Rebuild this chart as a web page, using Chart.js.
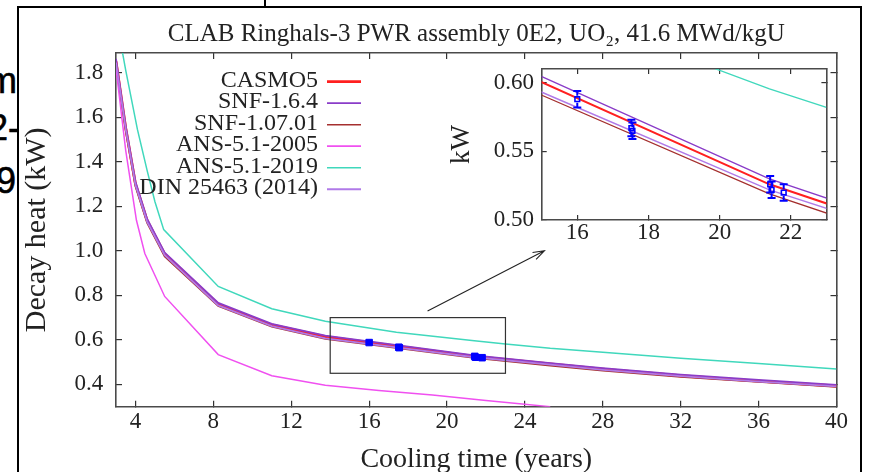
<!DOCTYPE html>
<html>
<head>
<meta charset="utf-8">
<script src="https://cdn.jsdelivr.net/npm/chart.js@4"></script>
<style>
html,body{margin:0;padding:0;width:869px;height:472px;overflow:hidden;background:#fff;}
.side{position:absolute;font-family:"Liberation Sans",Arial,sans-serif;font-size:36px;line-height:36px;color:#000;white-space:nowrap;-webkit-text-stroke:0.6px #000;}
#frame{position:absolute;left:17px;top:6px;width:841px;height:520px;border:2px solid #000;background:#fff;}
#topline{position:absolute;left:263.5px;top:0;width:2px;height:7px;background:#000;}
#main{position:absolute;left:0;top:0;}
#inset{position:absolute;left:430px;top:41px;}
</style>
</head>
<body>
<div class="side" style="left:-13px;top:62.8px;">m</div>
<div class="side" style="left:-12px;top:109.5px;">2-</div>
<div class="side" style="left:-4px;top:162.8px;">9(</div>
<div id="topline"></div>
<div id="frame"></div>
<canvas id="main" width="869" height="472"></canvas>
<canvas id="inset" width="402" height="207"></canvas>
<script>
// ---------------- data ----------------
const titleText = 'CLAB Ringhals-3 PWR assembly 0E2, UO\u2082, 41.6 MWd/kgU';
const seriesNames = ['CASMO5', 'SNF-1.6.4', 'SNF-1.07.01', 'ANS-5.1-2005', 'ANS-5.1-2019', 'DIN 25463 (2014)'];

const mainX    = [3, 3.5, 4, 4.6, 5.5, 8.25, 11, 13.75, 21.4, 25.3, 28, 32, 36, 40];
const casmo5   = [1.850, 1.550, 1.300, 1.135, 0.985, 0.760, 0.667, 0.615, 0.526, 0.492, 0.469, 0.439, 0.415, 0.393];
const snf164   = [1.862, 1.560, 1.310, 1.143, 0.992, 0.766, 0.672, 0.619, 0.530, 0.496, 0.473, 0.444, 0.420, 0.398];
const snf10701 = [1.840, 1.540, 1.290, 1.125, 0.975, 0.752, 0.659, 0.605, 0.519, 0.485, 0.462, 0.434, 0.411, 0.389];
const din25463 = [1.845, 1.545, 1.295, 1.130, 0.980, 0.755, 0.662, 0.607, 0.522, 0.489, 0.465, 0.437, 0.413, 0.391];

const ans2005X = [3, 3.5, 4.05, 4.48, 5.5, 8.25, 11, 13.75, 16.5, 19.25, 22, 25.3];
const ans2005  = [1.82, 1.45, 1.137, 0.988, 0.795, 0.534, 0.439, 0.396, 0.373, 0.352, 0.328, 0.300];

const ans2019X = [3, 3.5, 4.1, 4.6, 5.0, 5.45, 8.25, 11, 13.75, 17.4, 21.4, 23, 25.3, 28, 32, 36, 40];
const ans2019  = [2.05, 1.81, 1.545, 1.36, 1.22, 1.095, 0.840, 0.740, 0.684, 0.634, 0.5956, 0.582, 0.562, 0.544, 0.517, 0.494, 0.469];

const measX   = [16.0, 17.52, 17.55, 21.42, 21.46, 21.8];
const measY   = [0.588, 0.567, 0.565, 0.526, 0.522, 0.520];
const measErr = [0.006, 0.006, 0.006, 0.006, 0.006, 0.006];

const xTicks = [4, 8, 12, 16, 20, 24, 28, 32, 36, 40];
const yTicks = [0.4, 0.6, 0.8, 1.0, 1.2, 1.4, 1.6, 1.8];
const insetXTicks = [16, 18, 20, 22];
const insetYTicks = [0.50, 0.55, 0.60];

const zoomBoxX = [14, 23];
const zoomBoxY = [0.45, 0.70];
const arrowFrom = [19, 0.73];
const arrowTo = [25, 1.0];

// ---------------- styles ----------------
const serif = '"Liberation Serif","Times New Roman",serif';
const styles = [
  {color:'#ff2020', w:2.8, wi:2.0, lw:2.7},
  {color:'#8a3cc8', w:1.8, wi:1.4, lw:1.7},
  {color:'#a5302f', w:1.8, wi:1.3, lw:1.5},
  {color:'#f050f0', w:1.5, wi:1.3, lw:1.7},
  {color:'#40d8bc', w:1.5, wi:1.3, lw:1.5},
  {color:'#b07ae8', w:1.8, wi:1.4, lw:2.0}
];
const seriesX = [mainX, mainX, mainX, ans2005X, ans2019X, mainX];
const seriesY = [casmo5, snf164, snf10701, ans2005, ans2019, din25463];

function pts(xs, ys){ return xs.map((x,i)=>({x:x, y:ys[i]})); }
Chart.defaults.font.family = serif;

function lineSets(inset){
  const sets = seriesNames.map((n,i)=>({
    label:n, data:pts(seriesX[i], seriesY[i]), borderColor:styles[i].color,
    borderWidth: inset ? styles[i].wi : styles[i].w, pointRadius:0, tension:0, fill:false,
    order: 10 - i
  }));
  sets.push({
    label:'Measured', data:pts(measX, measY), showLine:false, pointStyle:'rect',
    pointRadius: inset ? 3.3 : 4.6,
    backgroundColor: inset ? 'rgba(0,0,0,0)' : '#0000ff',
    borderColor:'#0000ff', borderWidth: inset ? 1.6 : 1, order:0
  });
  return sets;
}

function tickSetter(arr){ return s => { s.ticks = arr.map(v=>({value:v})); }; }
function gridOpt(len){ return {drawOnChartArea:false, tickLength:len, color:'#333', lineWidth:1.2}; }
const borderOpt = {display:true, color:'#4a4a4a', width:1.6};

const mainDecor = {
  id:'mainDecor',
  afterDatasetsDraw(chart){
    const {ctx, scales:{x, y}} = chart;
    ctx.save();
    const x0 = x.getPixelForValue(zoomBoxX[0]), x1 = x.getPixelForValue(zoomBoxX[1]);
    const y0 = y.getPixelForValue(zoomBoxY[0]), y1 = y.getPixelForValue(zoomBoxY[1]);
    ctx.strokeStyle = '#333'; ctx.lineWidth = 1.2;
    ctx.strokeRect(x0, y1, x1 - x0, y0 - y1);
    const ax = x.getPixelForValue(arrowFrom[0]), ay = y.getPixelForValue(arrowFrom[1]);
    const bx = x.getPixelForValue(arrowTo[0]), by = y.getPixelForValue(arrowTo[1]);
    const ang = Math.atan2(by - ay, bx - ax), hl = 12, ha = 0.33;
    ctx.strokeStyle = '#222'; ctx.lineWidth = 1.1;
    ctx.beginPath();
    ctx.moveTo(ax, ay); ctx.lineTo(bx, by);
    ctx.moveTo(bx - hl*Math.cos(ang - ha), by - hl*Math.sin(ang - ha)); ctx.lineTo(bx, by);
    ctx.lineTo(bx - hl*Math.cos(ang + ha), by - hl*Math.sin(ang + ha));
    ctx.stroke();
    ctx.restore();
  },
  afterDraw(chart){
    const ctx = chart.ctx;
    ctx.save();
    ctx.font = '24px ' + serif;
    ctx.textAlign = 'right'; ctx.textBaseline = 'alphabetic'; ctx.fillStyle = '#222';
    seriesNames.forEach((n,i)=>{
      const yy = 81.7 + i*21.5;
      ctx.fillText(n, 318, yy + 5);
      ctx.strokeStyle = styles[i].color; ctx.lineWidth = styles[i].lw;
      ctx.beginPath(); ctx.moveTo(327, yy); ctx.lineTo(361, yy); ctx.stroke();
    });
    ctx.restore();
  }
};

const errBars = {
  id:'errBars',
  afterDatasetsDraw(chart){
    const {ctx, chartArea:a, scales:{x, y}} = chart;
    ctx.save();
    ctx.beginPath(); ctx.rect(a.left, a.top, a.right - a.left, a.bottom - a.top); ctx.clip();
    ctx.strokeStyle = '#0000ff'; ctx.lineWidth = 2;
    measX.forEach((mx,i)=>{
      const px = x.getPixelForValue(mx), pc = y.getPixelForValue(measY[i]);
      const yl = y.getPixelForValue(measY[i] - measErr[i]), yh = y.getPixelForValue(measY[i] + measErr[i]);
      ctx.beginPath();
      ctx.moveTo(px, yh); ctx.lineTo(px, pc - 3.5);
      ctx.moveTo(px, pc + 3.5); ctx.lineTo(px, yl);
      ctx.moveTo(px - 4, yl); ctx.lineTo(px + 4, yl);
      ctx.moveTo(px - 4, yh); ctx.lineTo(px + 4, yh);
      ctx.stroke();
    });
    ctx.restore();
  }
};

new Chart(document.getElementById('main'), {
  type:'line',
  data:{datasets: lineSets(false)},
  options:{
    responsive:false, animation:false, devicePixelRatio:1,
    layout:{padding:0},
    plugins:{
      legend:{display:false}, tooltip:{enabled:false},
      title:{display:true, text:titleText, fullSize:false, font:{family:serif, size:25, weight:'normal'}, color:'#222', padding:{top:19, bottom:4}}
    },
    scales:{
      x:{type:'linear', position:'bottom', min:3, max:40,
        afterBuildTicks:tickSetter(xTicks), afterFit:s=>{s.height = 65.3;},
        ticks:{font:{family:serif, size:23}, color:'#222', padding:7.2, maxRotation:0, autoSkip:false, callback:v=>String(v)},
        grid:gridOpt(-6), border:borderOpt,
        title:{display:true, text:'Cooling time (years)', font:{family:serif, size:28}, color:'#222', padding:{top:0, bottom:-4}}},
      y:{type:'linear', position:'left', min:0.3, max:1.888,
        afterBuildTicks:tickSetter(yTicks), afterFit:s=>{s.width = 116;},
        ticks:{font:{family:serif, size:23}, color:'#222', padding:18.7, callback:v=>v.toFixed(1)},
        grid:gridOpt(-6), border:borderOpt,
        title:{display:true, text:'Decay heat (kW)', font:{family:serif, size:30}, color:'#222', padding:{top:19, bottom:0}}},
      x2:{type:'linear', position:'top', min:3, max:40,
        afterBuildTicks:tickSetter(xTicks), afterFit:s=>{s.height = 0;},
        ticks:{display:false}, grid:gridOpt(-6), border:borderOpt},
      y2:{type:'linear', position:'right', min:0.3, max:1.888,
        afterBuildTicks:tickSetter(yTicks), afterFit:s=>{s.width = 32.5;},
        ticks:{display:false}, grid:gridOpt(-6), border:borderOpt}
    }
  },
  plugins:[mainDecor]
});

new Chart(document.getElementById('inset'), {
  type:'line',
  data:{datasets: lineSets(true)},
  options:{
    responsive:false, animation:false, devicePixelRatio:1,
    layout:{padding:{top:28, left:0, right:0, bottom:0}},
    plugins:{legend:{display:false}, tooltip:{enabled:false}},
    scales:{
      x:{type:'linear', position:'bottom', min:15, max:23,
        afterBuildTicks:tickSetter(insetXTicks), afterFit:s=>{s.height = 28;},
        ticks:{font:{family:serif, size:23}, color:'#222', padding:3.9, maxRotation:0, autoSkip:false, callback:v=>String(v)},
        grid:gridOpt(-5), border:borderOpt},
      y:{type:'linear', position:'left', min:0.5, max:0.61,
        afterBuildTicks:tickSetter(insetYTicks), afterFit:s=>{s.width = 111.7;},
        ticks:{font:{family:serif, size:23}, color:'#222', padding:12.7, callback:v=>v.toFixed(2)},
        grid:gridOpt(-5), border:borderOpt,
        title:{display:true, text:'kW', font:{family:serif, size:27}, color:'#222', padding:{top:15.5, bottom:0}}},
      x2:{type:'linear', position:'top', min:15, max:23,
        afterBuildTicks:tickSetter(insetXTicks), afterFit:s=>{s.height = 0;},
        ticks:{display:false}, grid:gridOpt(-5), border:borderOpt},
      y2:{type:'linear', position:'right', min:0.5, max:0.61,
        afterBuildTicks:tickSetter(insetYTicks), afterFit:s=>{s.width = 2.5;},
        ticks:{display:false}, grid:gridOpt(-5), border:borderOpt}
    }
  },
  plugins:[errBars]
});
</script>
</body>
</html>
